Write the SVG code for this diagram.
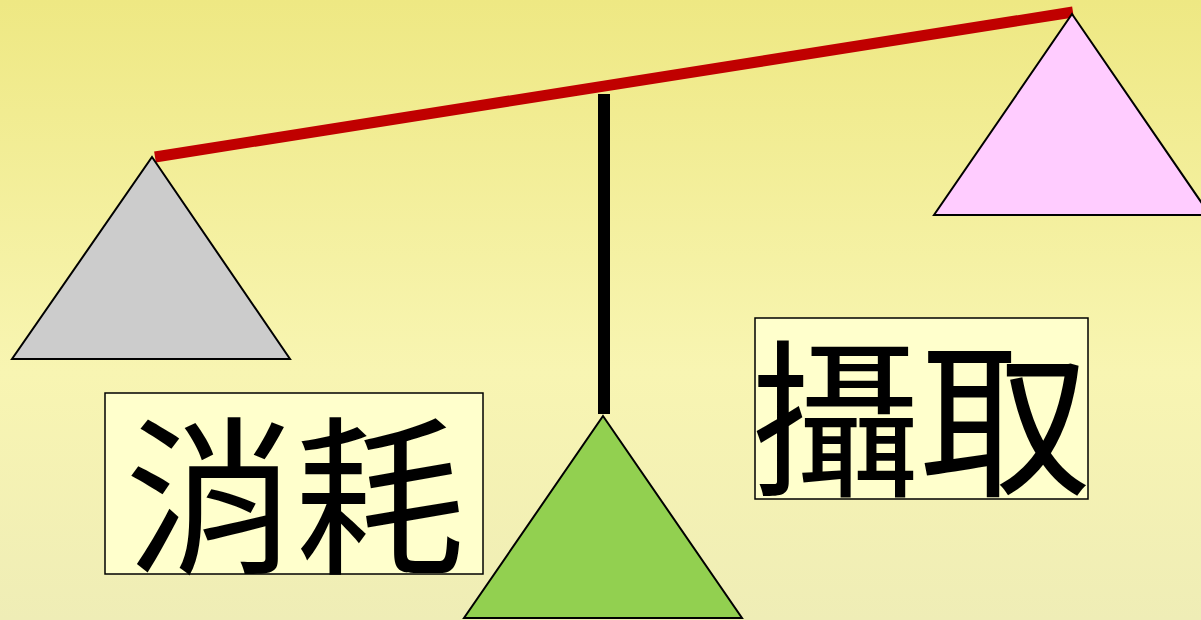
<svg xmlns="http://www.w3.org/2000/svg" width="1201" height="620" viewBox="0 0 1201 620">
  <defs>
    <linearGradient id="bg" x1="0" y1="0" x2="0" y2="1">
      <stop offset="0" stop-color="#EEE883"/>
      <stop offset="0.6" stop-color="#F8F5B2"/>
      <stop offset="1" stop-color="#EFEDB6"/>
    </linearGradient>
  </defs>
  <style>
    .tri { stroke: #000; stroke-width: 2; stroke-linejoin: miter; }
    .box { fill: #FFFFCC; stroke: #000; stroke-width: 1.5; }
    .lbl { font-family: "Noto Sans CJK TC", "Noto Sans CJK JP", serif; font-size: 170px; fill: #000; text-anchor: middle; }
  </style>
  <rect x="0" y="0" width="1201" height="620" fill="url(#bg)"/>
  <g id="beam">
    <line x1="155" y1="157" x2="1073" y2="12" stroke="#C00000" stroke-width="11"/>
  </g>
  <g id="pole">
    <rect x="598" y="94" width="12" height="320" fill="#000"/>
  </g>
  <g id="left-pan">
    <polygon class="tri" points="152,157 290,359 12,359" fill="#CCCCCC"/>
  </g>
  <g id="right-pan">
    <polygon class="tri" points="1072,14 1210,215 934,215" fill="#FFCCFF"/>
  </g>
  <g id="fulcrum">
    <polygon class="tri" points="603,416 742,618 464,618" fill="#92D050"/>
  </g>
  <g id="label-consume">
    <rect class="box" x="105" y="393" width="378" height="181"/>
    <text class="lbl" x="295" y="561">消耗</text>
  </g>
  <g id="label-intake">
    <rect class="box" x="755" y="318" width="333" height="181"/>
    <text class="lbl" x="920" y="484">攝取</text>
  </g>
</svg>
